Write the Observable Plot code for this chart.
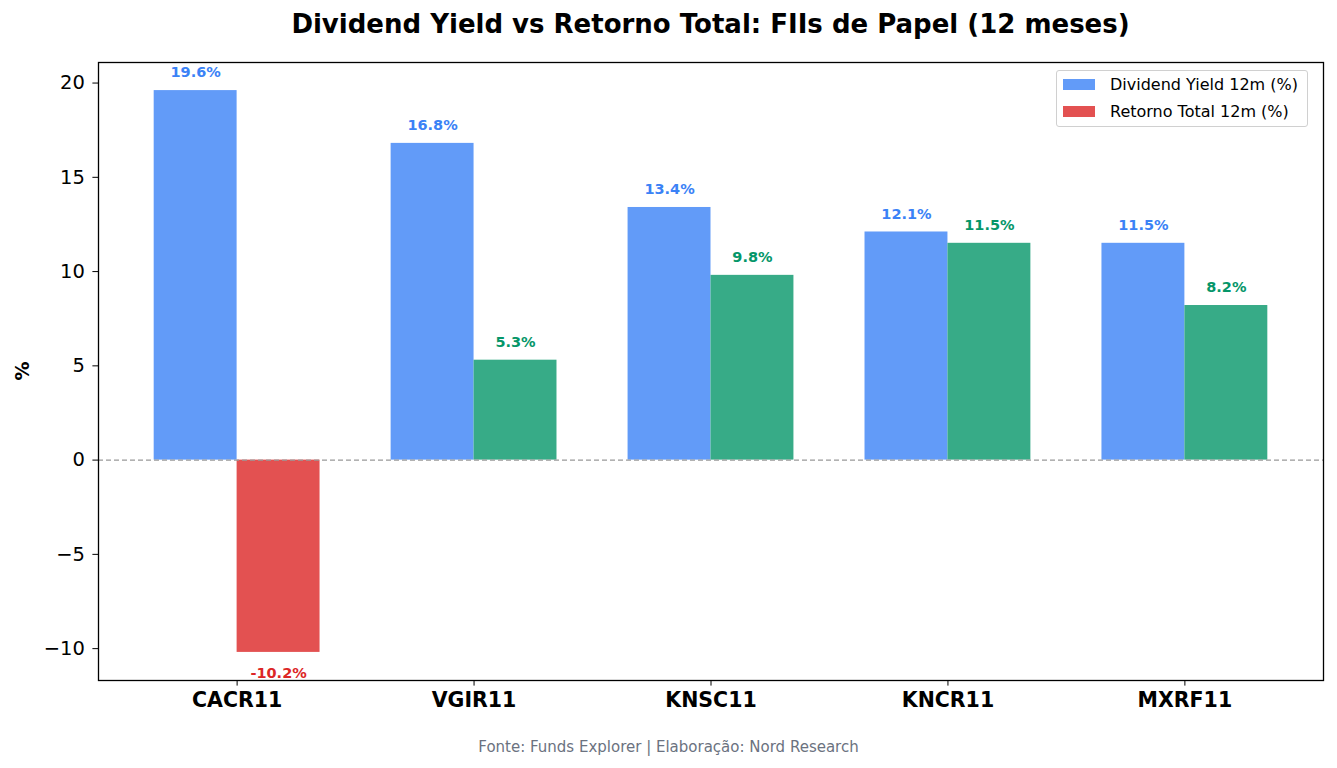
<!DOCTYPE html>
<html>
<head>
<meta charset="utf-8">
<script src="https://cdn.jsdelivr.net/npm/d3@7"></script>
<script src="https://cdn.jsdelivr.net/npm/@observablehq/plot@0.6"></script>
<style>
  html, body { margin: 0; padding: 0; background: #fff; }
  body { width: 1337px; height: 768px; position: relative; overflow: hidden; font-family: "DejaVu Sans", sans-serif; }
  #title { position: absolute; left: 98px; width: 1225px; top: 9px; text-align: center; font-size: 26px; font-weight: bold; color: #000; }
  #chart { position: absolute; left: 0; top: 50px; }
  #ylabel { position: absolute; left: 22px; top: 371px; transform: translate(-50%, -50%) rotate(-90deg); font-size: 19px; font-weight: bold; }
  #legend { position: absolute; left: 1056px; top: 70px; width: 252px; height: 57px; border: 1px solid #d0d0d0; border-radius: 3px; background: rgba(255,255,255,0.8); box-sizing: border-box; }
  .item { position: absolute; left: 6px; display: flex; align-items: center; font-size: 16px; color: #000; }
  .sw { width: 32px; height: 11px; margin-right: 15px; }
  #caption { position: absolute; left: 0; width: 1337px; top: 738px; text-align: center; font-size: 15px; color: #6b7280; }
</style>
</head>
<body>
<div id="title"></div>
<div id="chart"></div>
<div id="ylabel">%</div>
<div id="legend"></div>
<div id="caption"></div>
<script>
// ---- data ----
const fundos = ["CACR11", "VGIR11", "KNSC11", "KNCR11", "MXRF11"];
const dividendYield = [19.6, 16.8, 13.4, 12.1, 11.5];
const retornoTotal = [-10.2, 5.3, 9.8, 11.5, 8.2];
const seriesNames = ["Dividend Yield 12m (%)", "Retorno Total 12m (%)"];
const titleText = "Dividend Yield vs Retorno Total: FIIs de Papel (12 meses)";
const captionText = "Fonte: Funds Explorer | Elaboração: Nord Research";

// ---- styles ----
const barW = 0.35;
const blue = "#3b82f6", green = "#059669", red = "#dc2626";
const alphaMix = (hex, a) => { const c = d3.rgb(hex); return d3.rgb(c.r*a + 255*(1-a), c.g*a + 255*(1-a), c.b*a + 255*(1-a)).formatHex(); };

const rows = [];
fundos.forEach((f, i) => {
  rows.push({fundo: f, s: 0, v: dividendYield[i], x1: i - barW, x2: i, xm: i - barW/2});
  rows.push({fundo: f, s: 1, v: retornoTotal[i], x1: i, x2: i + barW, xm: i + barW/2});
});
const baseColor = d => d.s === 0 ? blue : (d.v >= 0 ? green : red);

const allVals = dividendYield.concat(retornoTotal);
const vmin = Math.min(0, d3.min(allVals)), vmax = d3.max(allVals);
const pad = (vmax - vmin) * 0.05;
const ylo = vmin - pad, yhi = vmax + pad;
const xpad = (fundos.length - 1 + 2*barW) * 0.05;

const chart = Plot.plot({
  width: 1337,
  height: 675,
  marginTop: 12,
  marginBottom: 45,
  marginLeft: 98,
  marginRight: 14,
  style: {fontFamily: "DejaVu Sans, sans-serif", fontSize: "19px", color: "#000", background: "transparent"},
  x: {domain: [-barW - xpad, fundos.length - 1 + barW + xpad]},
  y: {domain: [ylo, yhi]},
  color: {type: "identity"},
  marks: [
    Plot.rectY(rows, {x1: "x1", x2: "x2", y1: 0, y2: "v", fill: d => alphaMix(baseColor(d), 0.8)}),
    Plot.ruleY([0], {stroke: "#999", strokeWidth: 1.2, strokeDasharray: "5,3"}),
    Plot.text(rows.filter(d => d.v >= 0), {x: "xm", y: "v", text: d => d.v.toFixed(1) + "%", fill: baseColor, fontWeight: "bold", fontSize: 14.5, dy: -18, lineAnchor: "middle"}),
    Plot.text(rows.filter(d => d.v < 0), {x: "xm", y: "v", text: d => d.v.toFixed(1) + "%", fill: baseColor, fontWeight: "bold", fontSize: 14.5, dy: 21, lineAnchor: "middle"}),
    Plot.axisY({ticks: d3.ticks(ylo, yhi, 7), tickSize: 5.6, tickPadding: 8, label: null, fontSize: 19.5,
      tickFormat: d => d < 0 ? "\u2212" + Math.abs(d) : String(d)}),
    Plot.axisX({ticks: d3.range(fundos.length), tickSize: 5.6, tickPadding: 6, label: null, fontSize: 20.5, fontWeight: "bold",
      tickFormat: i => fundos[i]}),
    Plot.frame({stroke: "#000", strokeWidth: 1.3})
  ]
});
document.getElementById("chart").appendChild(chart);

document.getElementById("title").textContent = titleText;
document.getElementById("caption").textContent = captionText;

const legend = document.getElementById("legend");
[alphaMix(blue, 0.8), alphaMix(red, 0.8)].forEach((c, k) => {
  const it = document.createElement("div");
  it.className = "item";
  it.style.top = (k === 0 ? 4 : 31) + "px";
  const sw = document.createElement("span");
  sw.className = "sw"; sw.style.background = c;
  const tx = document.createElement("span");
  tx.textContent = seriesNames[k];
  it.appendChild(sw); it.appendChild(tx);
  legend.appendChild(it);
});
</script>
</body>
</html>
